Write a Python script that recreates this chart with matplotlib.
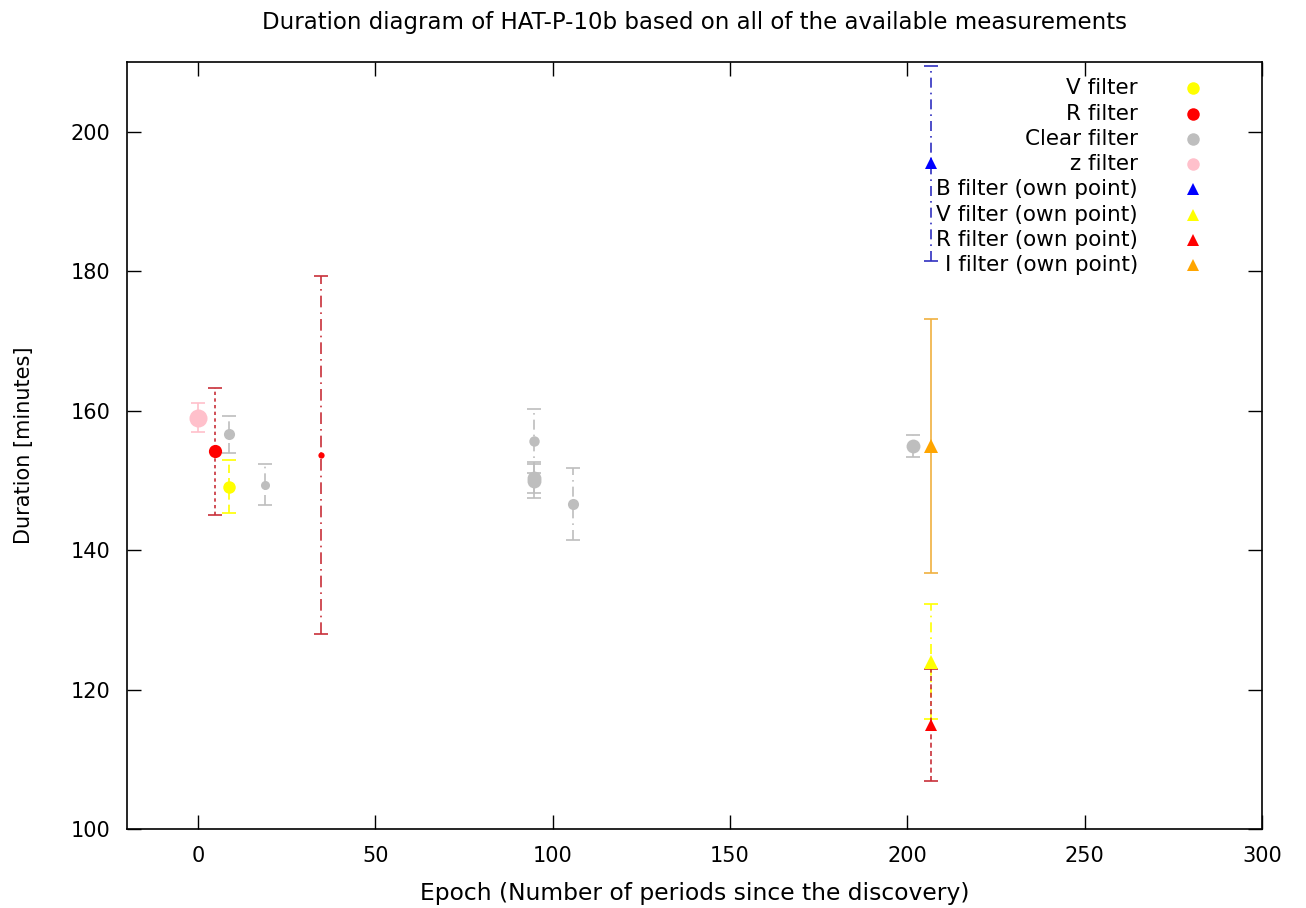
import matplotlib
matplotlib.use("Agg")
import matplotlib.pyplot as plt

plt.rcParams.update({
    "font.family": "DejaVu Sans",
    "font.size": 15,
})

# ---------------------------------------------------------------------------
# Transit durations [minutes] vs. epoch, grouped by filter
# ---------------------------------------------------------------------------
v_epoch = [8.75]
v_dur = [149.1]
v_err = [3.8]

r_epoch = [4.8, 34.8]
r_dur = [154.2, 153.6]
r_err = [9.1, 25.7]

clear_epoch = [8.75, 18.8, 94.8, 94.8, 94.8, 105.8, 201.6]
clear_dur = [156.6, 149.4, 155.7, 150.4, 149.9, 146.6, 154.9]
clear_err = [2.7, 2.9, 4.6, 2.2, 2.4, 5.2, 1.55]

z_epoch = [0.0]
z_dur = [159.0]
z_err = [2.1]

# own observations
b_own_epoch = [206.8]
b_own_dur = [195.5]
b_own_err = [14.0]

v_own_epoch = [206.8]
v_own_dur = [124.0]
v_own_err = [8.2]

r_own_epoch = [206.8]
r_own_dur = [114.9]
r_own_err = [8.0]

i_own_epoch = [206.8]
i_own_dur = [154.9]
i_own_err = [18.2]

legend_labels = ["V filter", "R filter", "Clear filter", "z filter",
                 "B filter (own point)", "V filter (own point)",
                 "R filter (own point)", "I filter (own point)"]


def errbar(ax, x, y, err, color, ecolor, ls, marker, ms):
    _, caps, bars = ax.errorbar(x, y, yerr=err, fmt="none", ecolor=ecolor,
                                elinewidth=1.2, capsize=5, capthick=1.2,
                                zorder=2)
    for b in bars:
        b.set_linestyle(ls)
    ax.plot(x, y, linestyle="none", marker=marker, color=color,
            markersize=ms, markeredgewidth=0, zorder=3)


fig = plt.figure(figsize=(13.06, 9.08), dpi=100)
ax = fig.add_axes([0.0972, 0.0870, 0.8691, 0.8447])

# literature points
errbar(ax, z_epoch, z_dur, z_err, "#ffc0cb", "#ffc0cb", (0, (6, 3, 1, 3)), "o", 13)
errbar(ax, r_epoch[:1], r_dur[:1], r_err[:1], "#ff0000", "#c8303a", (0, (2, 2)), "o", 9.5)
errbar(ax, r_epoch[1:], r_dur[1:], r_err[1:], "#ff0000", "#c8303a", (0, (7, 3, 1, 3)), "o", 4.5)
clear_ms = [8, 6.5, 7.5, 10, 10, 8, 10]
for x, y, e, ms in zip(clear_epoch, clear_dur, clear_err, clear_ms):
    errbar(ax, [x], [y], [e], "#bebebe", "#bebebe", (0, (6, 3, 1, 3)), "o", ms)
errbar(ax, v_epoch, v_dur, v_err, "#ffff00", "#ffff00", (0, (5, 3)), "o", 9)

# own points
errbar(ax, i_own_epoch, i_own_dur, i_own_err, "#ffa500", "#f0b040", "-", "^", 10)
errbar(ax, b_own_epoch, b_own_dur, b_own_err, "#0000ff", "#3030c0", (0, (6, 3, 1, 3)), "^", 8)
errbar(ax, v_own_epoch, v_own_dur, v_own_err, "#ffff00", "#ffff00", (0, (6, 3, 1, 3)), "^", 10)
errbar(ax, r_own_epoch, r_own_dur, r_own_err, "#ff0000", "#c8303a", (0, (3, 2)), "^", 9)

# key, right-aligned text with the symbol after it
key_style = [("o", "#ffff00", 9), ("o", "#ff0000", 9), ("o", "#bebebe", 9),
             ("o", "#ffc0cb", 9), ("^", "#0000ff", 8), ("^", "#ffff00", 9),
             ("^", "#ff0000", 8), ("^", "#ffa500", 9)]
for i, (lab, (mk, col, ms)) in enumerate(zip(legend_labels, key_style)):
    yk = 0.9658 - i * 0.0330
    ax.text(0.8907, yk, lab, transform=ax.transAxes, ha="right",
            va="center", fontsize=15.5)
    ax.plot([0.939], [yk], transform=ax.transAxes, marker=mk, color=col,
            markersize=ms, markeredgewidth=0, linestyle="none")

ax.set_xlim(-20, 300)
ax.set_ylim(100, 210)
ax.set_xticks([0, 50, 100, 150, 200, 250, 300])
ax.set_yticks([100, 120, 140, 160, 180, 200])
ax.tick_params(direction="in", length=10, width=1, top=True, right=True,
               labelsize=15, pad=12)
for s in ax.spines.values():
    s.set_linewidth(1.2)

ax.set_xlabel("Epoch (Number of periods since the discovery)", fontsize=16.8,
              labelpad=12)
ax.set_ylabel("Duration [minutes]", fontsize=15, labelpad=26)
fig.text(0.532, 0.975, "Duration diagram of HAT-P-10b based on all of the "
         "available measurements", ha="center", va="center", fontsize=16.5)

fig.savefig("out.png", dpi=100)
